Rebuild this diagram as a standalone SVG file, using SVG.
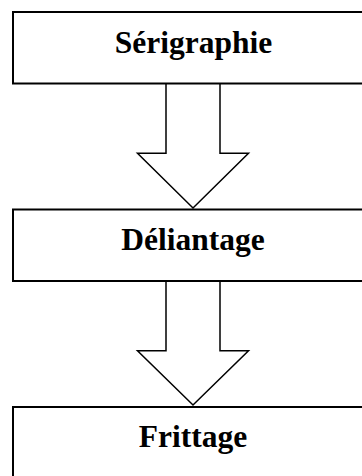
<svg xmlns="http://www.w3.org/2000/svg" width="362" height="476" viewBox="0 0 362 476">
<style>
.box{fill:#fff;stroke:#000;stroke-width:2}
.arr{fill:#fff;stroke:#000;stroke-width:1.5;stroke-linejoin:miter}
.lbl{font-family:"Liberation Serif","Times New Roman",serif;font-weight:bold;font-size:31.5px;fill:#000;text-anchor:middle}
</style>
<rect width="362" height="476" fill="#fff"/>
<g id="connectors">
<path class="arr" d="M166 84 V153.3 H137.5 L193 208 L248.5 153.3 H220 V84"/>
<path class="arr" d="M166 281.5 V350.8 H137.5 L193 405 L248.5 350.8 H220 V281.5"/>
</g>
<g id="node-serigraphie">
<rect class="box" x="13" y="12" width="360" height="71.5"/>
<text class="lbl" x="193.5" y="53.3">Sérigraphie</text>
</g>
<g id="node-deliantage">
<rect class="box" x="13" y="209.5" width="360" height="71.5"/>
<text class="lbl" x="193" y="250">Déliantage</text>
</g>
<g id="node-frittage">
<rect class="box" x="13" y="407" width="360" height="80"/>
<text class="lbl" x="193" y="447.3">Frittage</text>
</g>
</svg>
